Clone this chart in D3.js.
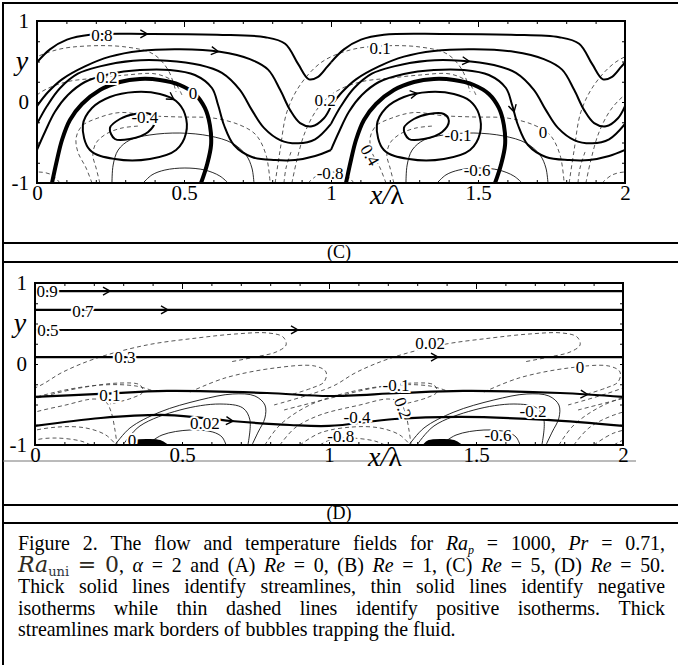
<!DOCTYPE html>
<html>
<head>
<meta charset="utf-8">
<script src="https://cdnjs.cloudflare.com/ajax/libs/d3/7.8.5/d3.min.js"></script>
<style>
  body { margin: 0; background: #fff; }
  text { font-family: "Liberation Serif", "Times New Roman", serif; }
</style>
</head>
<body>
<svg id="fig"></svg>
<script>
// ---- axes ----
const xTicks = [0, 0.5, 1, 1.5, 2];
const yTicks = [1, 0, -1];

// ---- panel (C), Re = 5 : one period in x/lambda, repeated along the channel ----
const cStreamA = [[0,0.49],[0.044,0.65],[0.102,0.77],[0.18,0.83],[0.374,0.84],[0.612,0.83],[0.776,0.80],[0.844,0.72],[0.888,0.47],[0.925,0.28],[0.956,0.31],[0.986,0.43],[1,0.49]];
const cStreamB = [[0,-0.05],[0.037,0.12],[0.085,0.28],[0.163,0.44],[0.248,0.56],[0.35,0.63],[0.486,0.65],[0.622,0.62],[0.724,0.53],[0.786,0.40],[0.827,0.15],[0.861,-0.10],[0.895,-0.26],[0.935,-0.30],[0.976,-0.20],[1,-0.05]];
const cStreamC = [[0,-0.27],[0.034,-0.05],[0.078,0.17],[0.139,0.35],[0.214,0.44],[0.327,0.51],[0.442,0.51],[0.554,0.457],[0.629,0.36],[0.69,0.15],[0.731,-0.10],[0.772,-0.32],[0.827,-0.47],[0.888,-0.51],[0.946,-0.46],[1,-0.27]];
const cStreamD = [[0,-0.59],[0.027,-0.37],[0.061,-0.12],[0.105,0.086],[0.163,0.247],[0.248,0.346],[0.35,0.395],[0.452,0.395],[0.537,0.333],[0.595,0.173],[0.616,-0.037],[0.636,-0.284],[0.67,-0.531],[0.731,-0.679],[0.81,-0.716],[0.878,-0.716],[0.946,-0.667],[1,-0.593]];
const cBubble = [[0.051,-1],[0.068,-0.716],[0.085,-0.469],[0.112,-0.222],[0.153,-0.025],[0.214,0.148],[0.282,0.247],[0.35,0.284],[0.418,0.272],[0.486,0.21],[0.537,0.099],[0.571,-0.074],[0.588,-0.284],[0.592,-0.531],[0.578,-0.778],[0.558,-1]];
const cLoopOuter = [[0.156,-0.284],[0.187,-0.074],[0.248,0.062],[0.333,0.123],[0.418,0.099],[0.473,0.012],[0.503,-0.148],[0.507,-0.383],[0.473,-0.593],[0.384,-0.704],[0.265,-0.704],[0.18,-0.593]];
const cLoopInner = [[0.248,-0.321],[0.282,-0.21],[0.333,-0.148],[0.384,-0.148],[0.401,-0.235],[0.378,-0.37],[0.316,-0.457],[0.265,-0.457]];
const cNegIso = [
  [[0.255,-1],[0.259,-0.778],[0.276,-0.593],[0.316,-0.469],[0.384,-0.407],[0.486,-0.383],[0.588,-0.42],[0.663,-0.506],[0.711,-0.654],[0.731,-0.815],[0.738,-1]],
  [[0.361,-1],[0.391,-0.9],[0.435,-0.84],[0.503,-0.815],[0.571,-0.84],[0.622,-0.914],[0.65,-1]]
];
const cPosIso = [
  [[0.81,-1],[0.827,-0.593],[0.85,-0.123],[0.895,0.21],[0.969,0.494],[1.065,0.642],[1.167,0.691],[1.303,0.679],[1.395,0.593],[1.446,0.395],[1.473,0.123]],
  [[0.867,-1],[0.884,-0.716],[0.912,-0.37],[0.956,-0.074],[1.014,0.123],[1.099,0.247],[1.204,0.296],[1.303,0.333],[1.405,0.346],[1.466,0.247],[1.493,0.086]],
  [[0.187,-1],[0.167,-0.815],[0.139,-0.617],[0.133,-0.444],[0.153,-0.296],[0.207,-0.198],[0.282,-0.13],[0.384,-0.17],[0.486,-0.185],[0.599,-0.198],[0.69,-0.284],[0.745,-0.407],[0.779,-0.654],[0.793,-1]],
  [[0.214,-1],[0.201,-0.815],[0.19,-0.654],[0.201,-0.506],[0.235,-0.395],[0.289,-0.321],[0.35,-0.296]],
  [[0.922,-1],[0.956,-0.901],[1.003,-0.864],[1.051,-0.901],[1.078,-1]],
  [[0.84,-1],[0.847,-0.815],[0.864,-0.617]]
];
const cLabels = [
  ["0.8",0.221,0.827,0],["0.2",0.238,0.309,0],["0",0.531,0.111,0],["-0.4",0.367,-0.185,0],
  ["0.2",0.98,0.025,0],["0.1",1.167,0.667,0],["-0.8",0.997,-0.877,0],["0.4",1.133,-0.654,60],
  ["-0.1",1.432,-0.407,0],["-0.6",1.497,-0.84,0],["0",1.721,-0.37,0]
];
const cArrows = [[0.374,0.827],[0.616,0.617],[0.463,0.025],[1.473,0.556],[1.296,0.062],[1.65,-0.099]];

// ---- panel (D), Re = 50 ----
const dStream09 = [[0,0.9],[2,0.9]];
const dStream07 = [[0,0.667],[2,0.667]];
const dStream05 = [[0,0.42],[2,0.42]];
const dStream03 = [[0,0.086],[2,0.086]];
const dStream01 = [[0,-0.407],[0.221,-0.37],[0.449,-0.333],[0.789,-0.358],[1,-0.395],[1.241,-0.358],[1.456,-0.333],[1.786,-0.358],[2,-0.407]];
const dStream002 = [[0,-0.765],[0.224,-0.667],[0.449,-0.63],[0.667,-0.704],[0.867,-0.753],[1,-0.765],[1.224,-0.679],[1.449,-0.654],[1.741,-0.691],[2,-0.765]];
const dBubble = [[0.323,-1],[0.34,-0.951],[0.391,-0.938],[0.425,-0.951],[0.449,-1]];
const dNegIso = [
  [[0.272,-1],[0.323,-0.79],[0.425,-0.593],[0.561,-0.444],[0.673,-0.37],[0.748,-0.395],[0.782,-0.506],[0.782,-0.667],[0.759,-0.84],[0.738,-1]],
  [[0.299,-1],[0.357,-0.765],[0.493,-0.568],[0.629,-0.494],[0.707,-0.543],[0.731,-0.691],[0.724,-1]],
  [[0.381,-1],[0.432,-0.877],[0.527,-0.815],[0.605,-0.84],[0.636,-0.901],[0.65,-1]]
];
const dPosIso = [
  [[-0.187,-0.506],[0.007,-0.284],[0.095,-0.099],[0.211,0.074],[0.381,0.235],[0.551,0.321],[0.68,0.37],[0.793,0.383],[0.844,0.333],[0.854,0.235],[0.82,0.148],[0.748,0.086],[0.663,0.025]],
  [[-0.153,-0.568],[0.007,-0.42],[0.153,-0.296],[0.289,-0.235],[0.357,-0.259],[0.367,-0.346],[0.33,-0.42],[0.255,-0.494]],
  [[0.527,-0.346],[0.646,-0.173],[0.816,-0.049],[0.952,-0.025],[0.99,-0.099],[0.983,-0.222],[0.942,-0.296],[0.867,-0.383]],
  [[0.969,-1],[1.003,-0.938],[1.071,-0.914],[1.156,-0.951],[1.19,-1]],
  [[0.901,-1],[0.969,-0.852],[1.078,-0.778],[1.173,-0.79],[1.241,-0.877],[1.276,-1]],
  [[0.833,-1],[0.884,-0.79],[0.969,-0.63],[1.105,-0.506],[1.201,-0.432],[1.241,-0.469],[1.259,-0.593],[1.272,-0.815],[1.279,-1]],
  [[0.782,-1],[0.833,-0.753],[0.935,-0.506],[1.071,-0.346],[1.228,-0.259],[1.344,-0.272],[1.4,-0.33]]
];
const dLabels = [
  ["0.9",0.041,0.901,0],["0.7",0.163,0.654,0],["0.5",0.044,0.42,0],["0.3",0.306,0.086,0],
  ["0.1",0.255,-0.383,0],["0.02",0.578,-0.728,0],["0",0.33,-0.938,0],["0.02",1.344,0.259,0],
  ["0",1.854,-0.037,0],["-0.1",1.228,-0.259,0],["0.2",1.252,-0.543,70],["-0.4",1.095,-0.654,0],
  ["-0.8",1.04,-0.889,0],["-0.2",1.694,-0.58,0],["-0.6",1.575,-0.877,0]
];
const dArrows = [[0.255,0.9],[0.452,0.667],[0.895,0.42],[1.371,0.086],[1.878,-0.37],[0.673,-0.728]];

// ---- caption ----
const captionLines = [
  [[["Figure","n"]],[["2.","n"]],[["The","n"]],[["flow","n"]],[["and","n"]],[["temperature","n"]],[["fields","n"]],[["for","n"]],[["Ra","i"],["p","isub"]],[["=","n"]],[["1000,","n"]],[["Pr","i"]],[["=","n"]],[["0.71,","n"]]],
  [[["Ra","big"],["uni","bigsub"]],[["=","bign"]],[["0","bign"],[",","n"]],[["α","i"]],[["=","n"]],[["2","n"]],[["and","n"]],[["(A)","n"]],[["Re","i"]],[["=","n"]],[["0,","n"]],[["(B)","n"]],[["Re","i"]],[["=","n"]],[["1,","n"]],[["(C)","n"]],[["Re","i"]],[["=","n"]],[["5,","n"]],[["(D)","n"]],[["Re","i"]],[["=","n"]],[["50.","n"]]],
  "Thick solid lines identify streamlines, thin solid lines identify negative".split(" ").map(w => [[w,"n"]]),
  "isotherms while thin dashed lines identify positive isotherms. Thick".split(" ").map(w => [[w,"n"]]),
  "streamlines mark borders of bubbles trapping the fluid.".split(" ").map(w => [[w,"n"]])
];

const W = 678, H = 665;
const svg = d3.select("#fig").attr("width", W).attr("height", H);
svg.append("rect").attr("width", W).attr("height", H).attr("fill", "#fff");

// table rules
const rules = svg.append("g").attr("stroke", "#000").attr("stroke-width", 2);
rules.append("line").attr("x1", 3).attr("x2", W).attr("y1", 3).attr("y2", 3);
rules.append("line").attr("x1", 3).attr("x2", 3).attr("y1", 2).attr("y2", H);
[243, 262, 505, 523].forEach(yy => rules.append("line").attr("x1", 3).attr("x2", W).attr("y1", yy).attr("y2", yy));
svg.append("line").attr("x1", 3).attr("x2", 636).attr("y1", 461).attr("y2", 461)
  .attr("stroke", "#777").attr("stroke-width", 1);

svg.append("text").attr("x", 339).attr("y", 257.5).attr("text-anchor", "middle")
  .attr("font-size", 18).text("(C)");
svg.append("text").attr("x", 339).attr("y", 518.5).attr("text-anchor", "middle")
  .attr("font-size", 18).text("(D)");

const periods = [-1, 0, 1, 2];
const shift = (pts, k) => pts.map(p => [p[0] + k, p[1]]);

function drawPanel(id, box, parts) {
  const x = d3.scaleLinear().domain([0, 2]).range([box.left, box.right]);
  const y = d3.scaleLinear().domain([-1, 1]).range([box.bottom, box.top]);
  const line = d3.line().x(d => x(d[0])).y(d => y(d[1])).curve(d3.curveCatmullRom.alpha(0.5));
  const loop = d3.line().x(d => x(d[0])).y(d => y(d[1])).curve(d3.curveCatmullRomClosed.alpha(0.5));

  svg.append("clipPath").attr("id", "clip" + id).append("rect")
    .attr("x", box.left).attr("y", box.top)
    .attr("width", box.right - box.left).attr("height", box.bottom - box.top);
  const g = svg.append("g").attr("clip-path", `url(#clip${id})`);

  // isotherms
  parts.posIso.forEach(c => periods.forEach(k =>
    g.append("path").attr("d", line(shift(c, k))).attr("fill", "none")
      .attr("stroke", "#444").attr("stroke-width", 0.9).attr("stroke-dasharray", "4 3")));
  parts.negIso.forEach(c => periods.forEach(k =>
    g.append("path").attr("d", line(shift(c, k))).attr("fill", "none")
      .attr("stroke", "#111").attr("stroke-width", 0.9)));

  // streamlines
  const streamNodes = [];
  parts.periodicStreams.forEach(c => periods.forEach(k =>
    streamNodes.push(g.append("path").attr("d", line(shift(c, k))).attr("fill", "none")
      .attr("stroke", "#000").attr("stroke-width", 2).node())));
  parts.loops.forEach(c => periods.forEach(k =>
    streamNodes.push(g.append("path").attr("d", loop(shift(c, k))).attr("fill", "none")
      .attr("stroke", "#000").attr("stroke-width", 2).node())));
  parts.streams.forEach(c =>
    streamNodes.push(g.append("path").attr("d", line(c)).attr("fill", "none")
      .attr("stroke", "#000").attr("stroke-width", 2.2).node()));
  if (parts.bubble) periods.forEach(k =>
    g.append("path").attr("d", line(shift(parts.bubble, k))).attr("fill", "none")
      .attr("stroke", "#000").attr("stroke-width", 4));
  if (parts.blob) periods.forEach(k =>
    g.append("path").attr("d", line(shift(parts.blob, k))).attr("fill", "#000")
      .attr("stroke", "#000").attr("stroke-width", 2));

  // arrows, snapped onto the nearest streamline
  parts.arrows.forEach(([ax, ay]) => {
    const tx = x(ax), ty = y(ay);
    let best = null;
    streamNodes.forEach(n => {
      const L = n.getTotalLength();
      for (let l = 0; l <= L; l += 1) {
        const p = n.getPointAtLength(l);
        const dd = (p.x - tx) ** 2 + (p.y - ty) ** 2;
        if (!best || dd < best.dd) best = { dd, n, l, L };
      }
    });
    const p0 = best.n.getPointAtLength(Math.max(0, best.l - 2));
    const p1 = best.n.getPointAtLength(Math.min(best.L, best.l + 2));
    const pc = best.n.getPointAtLength(best.l);
    const ang = Math.atan2(p1.y - p0.y, p1.x - p0.x) * 180 / Math.PI;
    g.append("path").attr("d", "M-7,-4L0,0L-7,4").attr("fill", "none")
      .attr("stroke", "#000").attr("stroke-width", 1.4)
      .attr("transform", `translate(${pc.x},${pc.y}) rotate(${ang})`);
  });

  // contour labels
  parts.labels.forEach(([t, lx, ly, rot]) => {
    g.append("text").attr("x", x(lx)).attr("y", y(ly)).attr("dy", "0.35em")
      .attr("text-anchor", "middle").attr("font-size", 17)
      .attr("transform", rot ? `rotate(${rot},${x(lx)},${y(ly)})` : null)
      .attr("stroke", "#fff").attr("stroke-width", 4).attr("paint-order", "stroke")
      .attr("fill", "#000").text(t);
  });

  // frame and ticks
  svg.append("rect").attr("x", box.left).attr("y", box.top)
    .attr("width", box.right - box.left).attr("height", box.bottom - box.top)
    .attr("fill", "none").attr("stroke", "#000").attr("stroke-width", 2);
  const minor = d3.range(0, 2.001, 0.1);
  const tickAxis = (ax, yy, size) => svg.append("g").attr("transform", yy)
    .call(ax.tickSize(size).tickFormat("")).call(s => s.select(".domain").remove());
  tickAxis(d3.axisTop(x).tickValues(minor), `translate(0,${box.top})`, -3);
  tickAxis(d3.axisTop(x).tickValues(xTicks), `translate(0,${box.top})`, -6);
  tickAxis(d3.axisBottom(x).tickValues(minor), `translate(0,${box.bottom})`, -3);
  tickAxis(d3.axisLeft(y).tickValues(d3.range(-1, 1.001, 0.25)), `translate(${box.left},0)`, -3);
  tickAxis(d3.axisRight(y).tickValues(d3.range(-1, 1.001, 0.25)), `translate(${box.right},0)`, -3);

  const xa = svg.append("g").attr("transform", `translate(0,${box.bottom})`)
    .call(d3.axisBottom(x).tickValues(xTicks).tickSize(0).tickPadding(2).tickFormat(d => String(d)));
  xa.select(".domain").remove();
  xa.selectAll("text").attr("font-family", "Liberation Serif").attr("font-size", 21).attr("fill", "#000");
  const ya = svg.append("g").attr("transform", `translate(${box.left},0)`)
    .call(d3.axisLeft(y).tickValues(yTicks).tickSize(0).tickPadding(8).tickFormat(d => String(d)));
  ya.select(".domain").remove();
  ya.selectAll("text").attr("font-family", "Liberation Serif").attr("font-size", 21).attr("fill", "#000");

  svg.append("text").attr("x", box.left - 15).attr("y", y(0.39)).attr("text-anchor", "middle")
    .attr("font-size", 28).attr("font-style", "italic").text("y");
  const xl = svg.append("text").attr("x", x(1.19)).attr("y", box.bottom + 21)
    .attr("text-anchor", "middle").attr("font-size", 28);
  xl.append("tspan").attr("font-style", "italic").text("x/");
  xl.append("tspan").text("λ");
}

drawPanel("C", { left: 37, right: 625, top: 21, bottom: 183 }, {
  posIso: cPosIso, negIso: cNegIso,
  periodicStreams: [cStreamA, cStreamB, cStreamC, cStreamD],
  loops: [cLoopOuter, cLoopInner], streams: [],
  bubble: cBubble, arrows: cArrows, labels: cLabels
});
drawPanel("D", { left: 35, right: 623, top: 283, bottom: 445 }, {
  posIso: dPosIso, negIso: dNegIso, periodicStreams: [], loops: [],
  streams: [dStream09, dStream07, dStream05, dStream03, dStream01, dStream002],
  blob: dBubble, arrows: dArrows, labels: dLabels
});

// caption, justified
const fs = 19.9;
const styles = {
  n: { size: fs }, i: { size: fs, italic: true },
  isub: { size: 12, italic: true, sub: 4 },
  big: { size: 22, family: "DejaVu Serif", italic: true, fill: "#2e2a22" },
  bigsub: { size: 13, family: "DejaVu Serif", fill: "#2e3440", sub: 4 },
  bign: { size: 22, family: "DejaVu Serif", fill: "#2e2a22" }
};
const capLeft = 18, capRight = 665, capTop = 550, lineGap = 21.6;
const cap = svg.append("g");
captionLines.forEach((words, li) => {
  const base = capTop + li * lineGap;
  const nodes = words.map(segs => {
    const t = cap.append("text").attr("y", base).attr("fill", "#000");
    let off = 0;
    segs.forEach(([txt, st]) => {
      const s = styles[st];
      const ts = t.append("tspan").text(txt).attr("font-size", s.size);
      if (s.italic) ts.attr("font-style", "italic");
      if (s.family) ts.attr("font-family", s.family);
      if (s.fill) ts.attr("fill", s.fill);
      const want = s.sub || 0;
      if (want !== off) { ts.attr("dy", want - off); off = want; }
    });
    return t;
  });
  const widths = nodes.map(t => t.node().getComputedTextLength());
  const total = d3.sum(widths);
  const last = li === captionLines.length - 1;
  const gap = last ? fs * 0.25 : (capRight - capLeft - total) / (nodes.length - 1);
  let cx = capLeft;
  nodes.forEach((t, i) => { t.attr("x", cx); cx += widths[i] + gap; });
});
</script>
</body>
</html>
